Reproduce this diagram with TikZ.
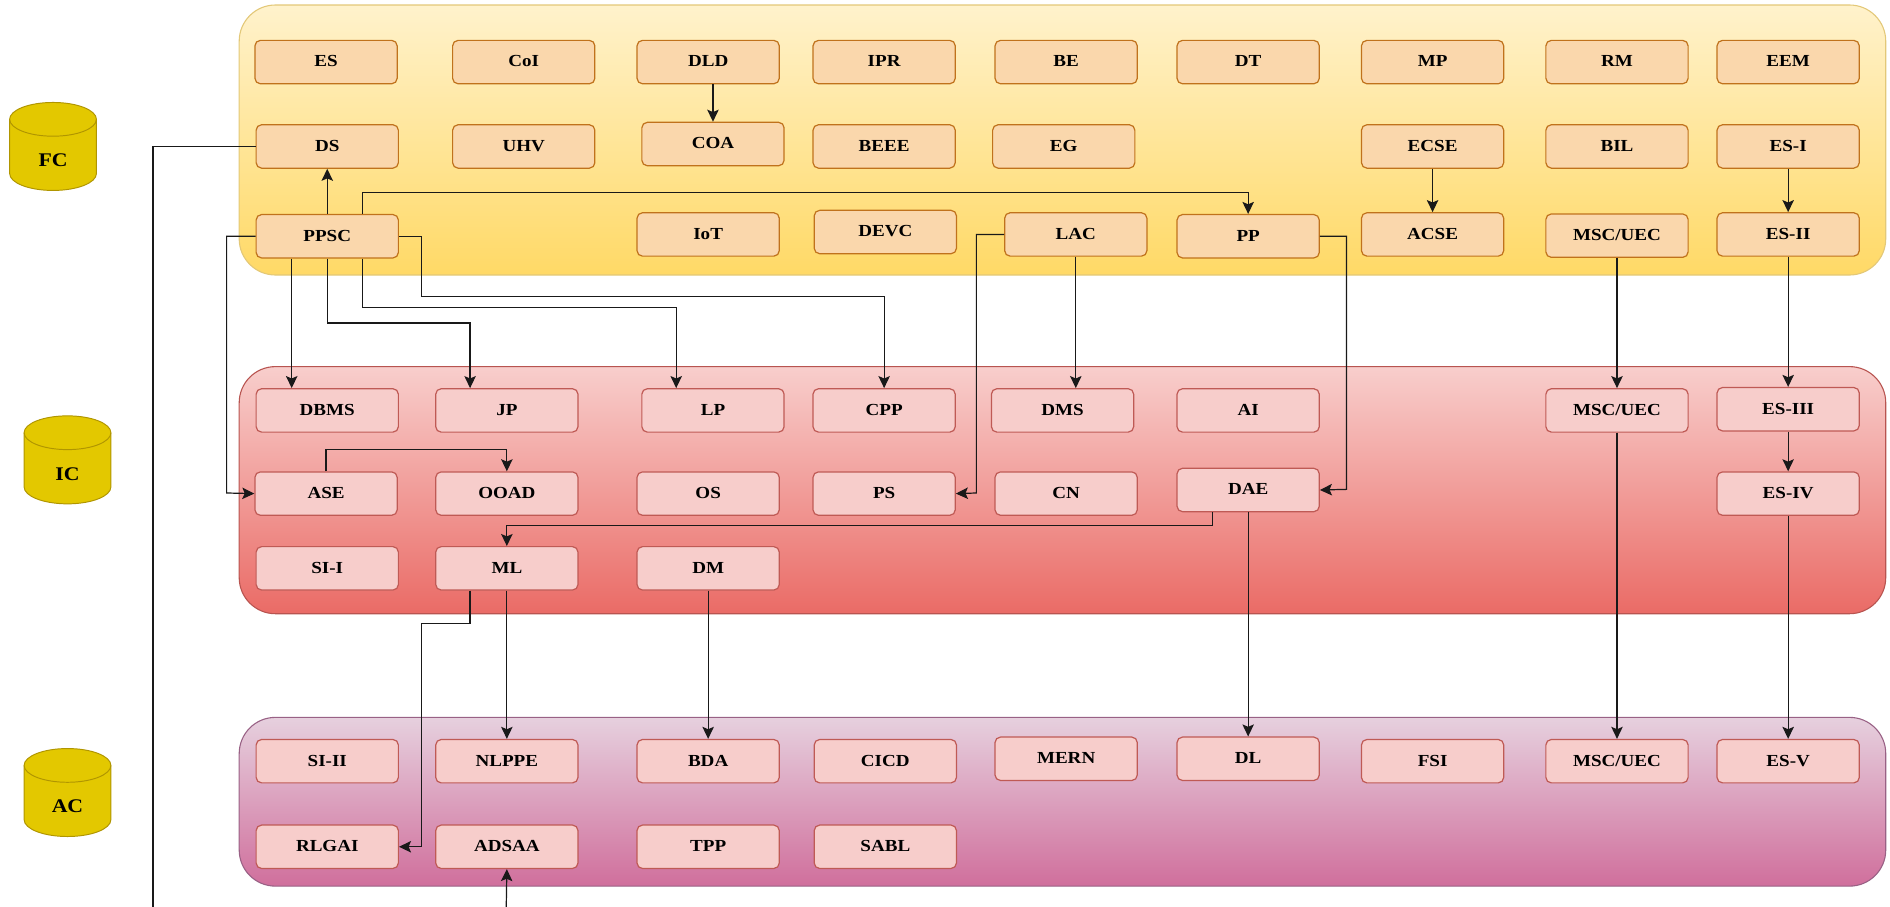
\documentclass[tikz,border=0pt]{standalone}
\usepackage{fontspec}
\setmainfont{Liberation Serif}[FakeStretch=1.13]
\usetikzlibrary{arrows.meta,calc}
\definecolor{ybox}{HTML}{FAD7AC}\definecolor{ybd}{HTML}{C0721C}
\definecolor{rbox}{HTML}{F7CDCB}\definecolor{rbd}{HTML}{BF5A55}
\definecolor{cylf}{HTML}{E3C800}\definecolor{cyld}{HTML}{B09500}
\definecolor{pyt}{HTML}{FFF2CC}\definecolor{pyb}{HTML}{FFD966}\definecolor{pyd}{HTML}{E3C878}
\definecolor{prt}{HTML}{F8CECC}\definecolor{prb}{HTML}{EA6B66}\definecolor{prd}{HTML}{B85450}
\definecolor{ppt}{HTML}{E6D0DE}\definecolor{ppb}{HTML}{D06F9C}\definecolor{ppd}{HTML}{996185}
\tikzset{
  panel/.style={draw=#1,line width=0.9pt,rounded corners=30pt,anchor=north west,inner sep=0pt,minimum width=1366pt},
  boxbase/.style={rounded corners=4.5pt,line width=1pt,anchor=north west,inner sep=0pt,
     minimum width=118pt,minimum height=36pt,font=\bfseries\fontsize{14}{14}\selectfont,text height=10pt,text depth=2pt},
  ybx/.style={boxbase,draw=ybd,fill=ybox},
  rbx/.style={boxbase,draw=rbd,fill=rbox},
  conn/.style={draw=black!90,line width=1pt,-{Stealth[length=10pt,width=9.5pt,inset=2pt]}},
  plain/.style={draw=black!90,line width=1pt},
  cyllab/.style={font=\bfseries\fontsize{16}{16}\selectfont,inner sep=0pt},
}
\newcommand{\ybx}[4]{\node[ybx] (#1) at (#2,#3) {#4};}
\newcommand{\rbx}[4]{\node[rbx] (#1) at (#2,#3) {#4};}
\newcommand{\cyl}[4]{%
  \path[draw=cyld,fill=cylf,line width=0.8pt] (#2,#3+14) arc[x radius=36,y radius=14,start angle=180,end angle=360]
     -- (#2+72,#3+59) arc[x radius=36,y radius=14,start angle=0,end angle=180] -- cycle;
  \path[draw=cyld,line width=0.8pt] (#2,#3+14) arc[x radius=36,y radius=14,start angle=180,end angle=0];
  \node[cyllab] (#1) at (#2+36,#3+48) {#4};}
\begin{document}
\begin{tikzpicture}[x=1pt,y=-1pt]
\useasboundingbox (0,0) rectangle (1568,752.4);
% panels
\node[panel=pyd,top color=pyt,bottom color=pyb,minimum height=224pt] (pY) at (198,3.7) {};
\node[panel=prd,top color=prt,bottom color=prb,minimum height=205pt] (pR) at (198,303.7) {};
\node[panel=ppd,top color=ppt,bottom color=ppb,minimum height=140pt] (pP) at (198,594.7) {};
% cylinders
\cyl{fc}{8}{85}{FC}
\cyl{ic}{20}{345}{IC}
\cyl{ac}{20}{621}{AC}
% foundation
\ybx{es}{211}{33}{ES}\ybx{coi}{375}{33}{CoI}\ybx{dld}{528}{33}{DLD}\ybx{ipr}{674}{33}{IPR}
\ybx{be}{825}{33}{BE}\ybx{dt}{976}{33}{DT}\ybx{mp}{1129}{33}{MP}\ybx{rm}{1282}{33}{RM}\ybx{eem}{1424}{33}{EEM}
\ybx{ds}{212}{103}{DS}\ybx{uhv}{375}{103}{UHV}\ybx{coa}{532}{101}{COA}\ybx{beee}{674}{103}{BEEE}
\ybx{eg}{823}{103}{EG}\ybx{ecse}{1129}{103}{ECSE}\ybx{bil}{1282}{103}{BIL}\ybx{esi}{1424}{103}{ES-I}
\ybx{ppsc}{212}{177.5}{PPSC}\ybx{iot}{528}{176}{IoT}\ybx{devc}{675}{174}{DEVC}\ybx{lac}{833}{176}{LAC}
\ybx{pp}{976}{177.5}{PP}\ybx{acse}{1129}{176}{ACSE}\ybx{msca}{1282}{177}{MSC/UEC}\ybx{esii}{1424}{176}{ES-II}
% intermediate
\rbx{dbms}{212}{322}{DBMS}\rbx{jp}{361}{322}{JP}\rbx{lp}{532}{322}{LP}\rbx{cpp}{674}{322}{CPP}
\rbx{dms}{822}{322}{DMS}\rbx{ai}{976}{322}{AI}\rbx{mscb}{1282}{322}{MSC/UEC}\rbx{esiii}{1424}{321}{ES-III}
\rbx{ase}{211}{391}{ASE}\rbx{ooad}{361}{391}{OOAD}\rbx{os}{528}{391}{OS}\rbx{ps}{674}{391}{PS}
\rbx{cn}{825}{391}{CN}\rbx{dae}{976}{388}{DAE}\rbx{esiv}{1424}{391}{ES-IV}
\rbx{sii}{212}{453}{SI-I}\rbx{ml}{361}{453}{ML}\rbx{dm}{528}{453}{DM}
% advanced
\rbx{siii}{212}{613}{SI-II}\rbx{nlppe}{361}{613}{NLPPE}\rbx{bda}{528}{613}{BDA}\rbx{cicd}{675}{613}{CICD}
\rbx{mern}{825}{611}{MERN}\rbx{dl}{976}{611}{DL}\rbx{fsi}{1129}{613}{FSI}\rbx{mscc}{1282}{613}{MSC/UEC}\rbx{esv}{1424}{613}{ES-V}
\rbx{rlgai}{212}{684}{RLGAI}\rbx{adsaa}{361}{684}{ADSAA}\rbx{tpp}{528}{684}{TPP}\rbx{sabl}{675}{684}{SABL}
% free ends
\coordinate (dsend) at (127,752.4);
\coordinate (adsstart) at (420,752.4);
% connectors
\draw[conn] ($(dld.south)+(4,0)$) -- (coa.north);
\draw[conn] (ppsc.north) -- (ds.south);
\draw[conn] ($(ppsc.north west)+(89,0)$) |- ($(pp.north)+(0,-18)$) -- (pp.north);
\draw[conn] (ppsc.west) -| (188,409) -- (ase.west);
\draw[conn] ($(ppsc.south west)+(30,0)$) -- ($(dbms.north west)+(30,0)$);
\draw[conn] (ppsc.south) |- ($(jp.north west)+(29,-54)$) -- ($(jp.north west)+(29,0)$);
\draw[conn] ($(ppsc.south west)+(89,0)$) |- ($(lp.north west)+(29,-67)$) -- ($(lp.north west)+(29,0)$);
\draw[conn] (ppsc.east) -| (350,246) -| (cpp.north);
\draw[conn] (lac.west) -| (810,409) -- (ps.east);
\draw[conn] (lac.south) -- (lac.south |- dms.north);
\draw[conn] (pp.east) -| (1117,406) -- (dae.east);
\draw[conn] (ecse.south) -- (acse.north);
\draw[conn] (esi.south) -- (esii.north);
\draw[conn] (msca.south) -- (mscb.north);
\draw[conn] (mscb.south) -- (mscc.north);
\draw[conn] (esii.south) -- (esiii.north);
\draw[conn] (esiii.south) -- (esiv.north);
\draw[conn] (esiv.south) -- (esv.north);
\draw[conn] (ase.north) |- ($(ooad.north)+(0,-18)$) -- (ooad.north);
\draw[conn] ($(dae.south west)+(30,0)$) |- ($(ml.north)+(0,-17)$) -- (ml.north);
\draw[conn] (dae.south) -- (dl.north);
\draw[conn] ($(ml.south west)+(29,0)$) |- (350,517) |- (rlgai.east);
\draw[conn] (ml.south) -- (nlppe.north);
\draw[conn] (dm.south) -- (bda.north);
\draw[plain] (ds.west) -| (dsend);
\draw[conn] (adsstart) -- (adsaa.south);
\end{tikzpicture}
\end{document}
